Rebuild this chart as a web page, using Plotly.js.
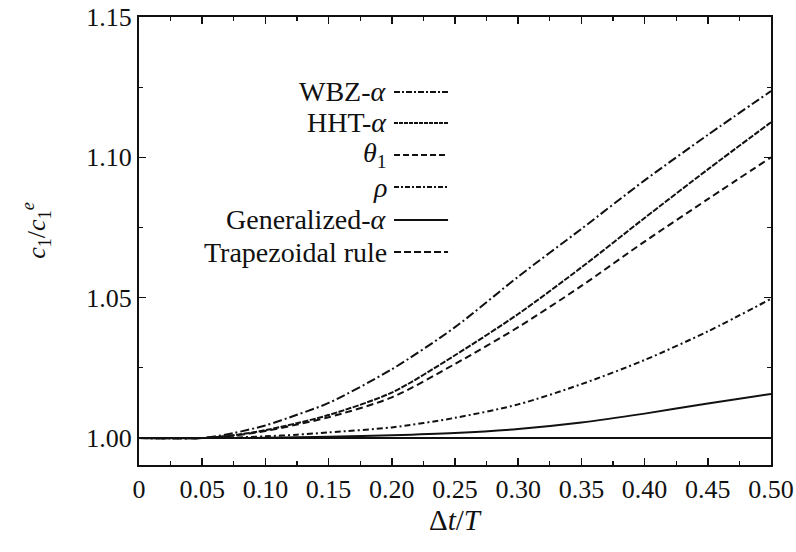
<!DOCTYPE html>
<html>
<head>
<meta charset="utf-8">
<script src="https://cdn.plot.ly/plotly-3.0.1.min.js"></script>
<style>html,body{margin:0;padding:0;background:#fff}#chart{width:796px;height:552px}</style>
</head>
<body>
<div id="chart"></div>
<script>
// Data
const dtT = [0, 0.05, 0.075, 0.10, 0.125, 0.15, 0.20, 0.25, 0.30, 0.35, 0.40, 0.45, 0.50];
const wbz   = [1.0000, 1.0000, 1.0018, 1.0045, 1.0083, 1.0125, 1.0245, 1.0395, 1.0575, 1.0745, 1.0918, 1.1080, 1.1236];
const hht   = [1.0000, 1.0000, 1.0010, 1.0028, 1.0053, 1.0082, 1.0162, 1.0295, 1.0442, 1.0608, 1.0784, 1.0957, 1.1125];
const theta1= [1.0000, 1.0000, 1.0009, 1.0025, 1.0048, 1.0074, 1.0145, 1.0264, 1.0395, 1.0542, 1.0700, 1.0851, 1.1000];
const rho   = [1.0000, 1.0000, 1.0002, 1.0006, 1.0012, 1.0020, 1.0038, 1.0072, 1.0120, 1.0192, 1.0278, 1.0380, 1.0496];
const genA  = [1.0000, 1.0000, 1.0000, 1.0001, 1.0003, 1.0005, 1.0010, 1.0018, 1.0032, 1.0055, 1.0087, 1.0123, 1.0157];
const trap  = [1.0000, 1.0000, 1.0000, 1.0000, 1.0000, 1.0000, 1.0000, 1.0000, 1.0000, 1.0000, 1.0000, 1.0000, 1.0000];
const seriesNames = ["WBZ-<i>α</i>", "HHT-<i>α</i>", "<i>θ</i><sub>1</sub>", "<i>ρ</i>", "Generalized-<i>α</i>", "Trapezoidal rule"];
const xTickVals = [0, 0.05, 0.10, 0.15, 0.20, 0.25, 0.30, 0.35, 0.40, 0.45, 0.50];
const xTickText = ["0", "0.05", "0.10", "0.15", "0.20", "0.25", "0.30", "0.35", "0.40", "0.45", "0.50"];
const yTickVals = [1.00, 1.05, 1.10, 1.15];
const yTickText = ["1.00", "1.05", "1.10", "1.15"];
const xTitle = "Δ<i>t</i>/<i>T</i>";
const yTitle = "<i>c</i><sub>1</sub>/<i>c</i><sub>1</sub><sup><i>e</i></sup>";

const seriesY = [wbz, hht, theta1, rho, genA, trap];
const dashes = ["9px,3px,2px,3px", "6px,1.5px", "7px,4px", "6px,3px,2px,3px", "solid", "solid"];
const legendDashes = ["6px,2px,2px,2px", "4px,1px", "6px,3px", "5px,2px,2px,2px", "solid", "7px,3px"];
const FONT = "Liberation Serif";

const traces = seriesY.map((y, i) => ({
  x: dtT, y: y, type: "scatter", mode: "lines", name: seriesNames[i],
  line: {color: "#111", width: 2, dash: dashes[i], shape: "spline", smoothing: 0.8},
  showlegend: false, hoverinfo: "skip"
}));

const rowsY = [0.8326, 0.7634, 0.692, 0.6205, 0.5469, 0.4754];
const annotations = seriesNames.map((t, i) => ({
  xref: "paper", yref: "paper", x: 0.396, y: rowsY[i], xanchor: "right", yanchor: "middle",
  text: t, showarrow: false, font: {family: FONT, size: 28, color: "#111"}
}));
annotations.push({
  xref: "paper", yref: "paper", x: -0.163, y: 0.525, xanchor: "center", yanchor: "middle",
  text: yTitle, textangle: -90, showarrow: false, font: {family: FONT, size: 26, color: "#111"}
});
annotations.push({
  xref: "paper", yref: "paper", x: 0.5, y: -0.122, xanchor: "center", yanchor: "middle",
  text: xTitle, showarrow: false, font: {family: FONT, size: 29, color: "#111"}
});
const shapes = legendDashes.map((d, i) => ({
  type: "line", xref: "paper", yref: "paper", x0: 0.4035, x1: 0.489, y0: rowsY[i], y1: rowsY[i],
  line: {color: "#111", width: 2, dash: d}
}));

const axisCommon = {
  showline: true, linecolor: "#111", linewidth: 2, mirror: "allticks",
  ticks: "inside", ticklen: 7, tickwidth: 1.5, tickcolor: "#111",
  showgrid: false, zeroline: false,
  tickfont: {family: FONT, size: 26, color: "#111"},
  minor: {ticks: "inside", ticklen: 4, tickwidth: 1.2, tickcolor: "#111", dtick: 0.025, showgrid: false}
};

const layout = {
  width: 796, height: 552,
  margin: {l: 139, r: 25, t: 17, b: 87},
  paper_bgcolor: "#fff", plot_bgcolor: "#fff",
  showlegend: false,
  font: {family: FONT, color: "#111"},
  xaxis: Object.assign({}, axisCommon, {
    range: [0, 0.5], tickvals: xTickVals, ticktext: xTickText
  }),
  yaxis: Object.assign({}, axisCommon, {
    range: [0.9904, 1.15], tickvals: yTickVals, ticktext: yTickText
  }),
  annotations: annotations,
  shapes: shapes
};

Plotly.newPlot("chart", traces, layout, {staticPlot: true, displayModeBar: false});
</script>
</body>
</html>
